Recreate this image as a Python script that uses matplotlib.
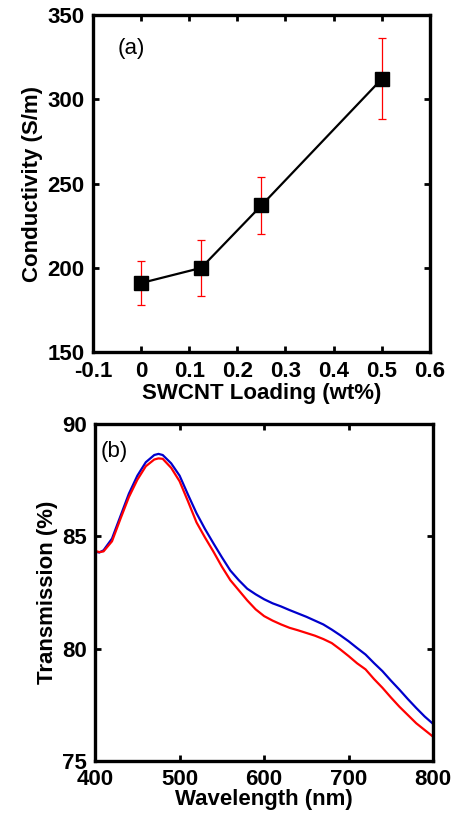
import numpy as np
import matplotlib
matplotlib.use('Agg')
import matplotlib.pyplot as plt

plt.rcParams['font.family'] = ['Liberation Sans', 'DejaVu Sans']

# (a) conductivity vs SWCNT loading
loading = [0, 0.125, 0.25, 0.5]
cond = [191, 200, 237, 312]
cond_err = [13, 16.5, 17, 24]

# (b) transmission spectra
wl = [400, 405, 410, 420, 430, 440, 450, 460, 470, 475, 480, 490, 500, 510,
      520, 530, 540, 550, 560, 570, 580, 590, 600, 610, 620, 630, 640, 650,
      660, 670, 680, 690, 700, 710, 720, 730, 740, 750, 760, 770, 780, 790, 800]
trans_blue = [84.32, 84.28, 84.38, 84.9, 85.9, 86.9, 87.7, 88.3, 88.62, 88.67,
              88.62, 88.25, 87.7, 86.85, 86.03, 85.33, 84.69, 84.07, 83.48,
              83.05, 82.67, 82.42, 82.2, 82.02, 81.88, 81.72, 81.57, 81.42,
              81.25, 81.08, 80.85, 80.6, 80.33, 80.03, 79.74, 79.36, 79.0,
              78.58, 78.18, 77.76, 77.36, 76.98, 76.65]
trans_red = [84.35, 84.3, 84.33, 84.78, 85.78, 86.75, 87.52, 88.12, 88.42, 88.47,
             88.45, 88.05, 87.45, 86.55, 85.62, 84.95, 84.32, 83.65, 83.05,
             82.6, 82.15, 81.75, 81.45, 81.25, 81.08, 80.93, 80.82, 80.7,
             80.58, 80.43, 80.25, 79.97, 79.67, 79.35, 79.08, 78.65, 78.26,
             77.83, 77.42, 77.05, 76.68, 76.38, 76.08]

fs = 16

def style(ax):
    for s in ax.spines.values():
        s.set_linewidth(2.4)
    ax.tick_params(direction='in', top=True, right=True, length=4, width=2,
                   labelsize=fs, pad=6)
    for lab in ax.get_xticklabels() + ax.get_yticklabels():
        lab.set_fontweight('bold')

fig = plt.figure(figsize=(4.55, 8.23), dpi=100)

ax1 = fig.add_axes([0.204, 0.572, 0.741, 0.410])
ax1.errorbar(loading, cond, yerr=cond_err, fmt='none', ecolor='red',
             elinewidth=0.9, capsize=3, capthick=0.9, zorder=1)
ax1.plot(loading, cond, '-s', color='black', lw=1.6, ms=10, zorder=2)
ax1.set_xlim(-0.1, 0.6)
ax1.set_ylim(150, 350)
ax1.set_xticks(np.arange(-0.1, 0.61, 0.1))
ax1.set_xticklabels(['-0.1', '0', '0.1', '0.2', '0.3', '0.4', '0.5', '0.6'])
ax1.set_yticks([150, 200, 250, 300, 350])
ax1.set_xlabel('SWCNT Loading (wt%)', fontsize=fs, fontweight='bold', labelpad=1)
ax1.set_ylabel('Conductivity (S/m)', fontsize=fs, fontweight='bold', labelpad=3)
ax1.text(0.075, 0.9, '(a)', transform=ax1.transAxes, fontsize=16, va='center')
style(ax1)

ax2 = fig.add_axes([0.209, 0.0753, 0.743, 0.4095])
ax2.plot(wl, trans_blue, color='#0000cc', lw=1.6)
ax2.plot(wl, trans_red, color='#ff0000', lw=1.6)
ax2.set_xlim(400, 800)
ax2.set_ylim(75, 90)
ax2.set_xticks([400, 500, 600, 700, 800])
ax2.set_yticks([75, 80, 85, 90])
ax2.set_xlabel('Wavelength (nm)', fontsize=fs, fontweight='bold', labelpad=-1)
ax2.set_ylabel('Transmission (%)', fontsize=fs, fontweight='bold', labelpad=3)
ax2.text(0.015, 0.917, '(b)', transform=ax2.transAxes, fontsize=16, va='center')
style(ax2)

fig.savefig('out.png', dpi=100)
